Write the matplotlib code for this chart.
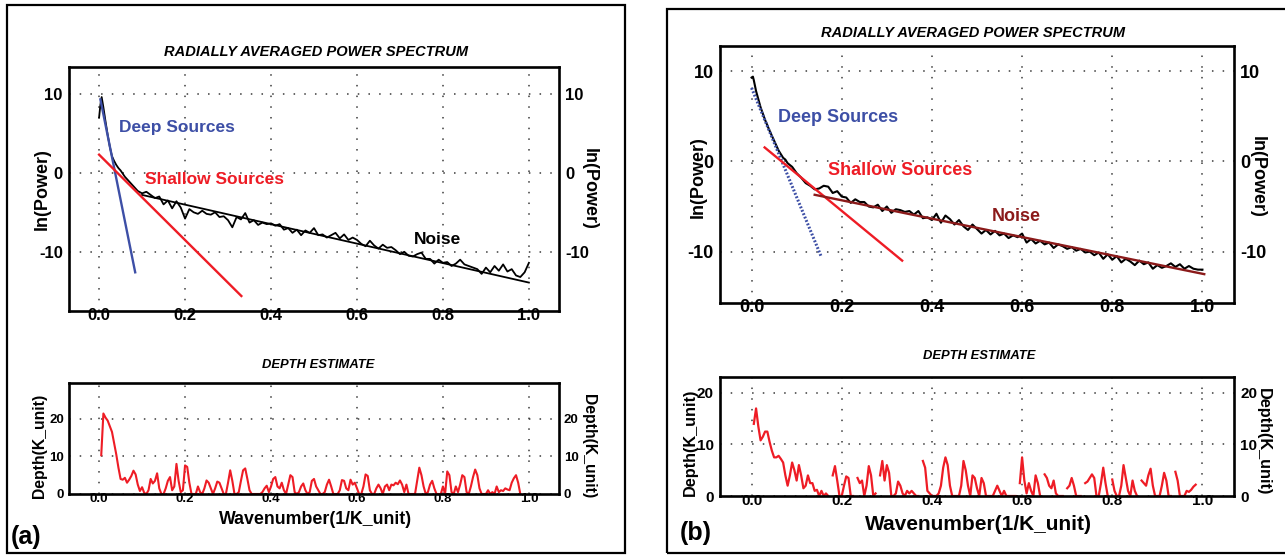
import numpy as np
import matplotlib
matplotlib.use("Agg")
import matplotlib.pyplot as plt
from matplotlib.patches import Rectangle

W, H = 1285, 556
plt.rcParams['font.family'] = ['Liberation Sans', 'DejaVu Sans']
plt.rcParams['font.weight'] = 'bold'
plt.rcParams['axes.unicode_minus'] = False

# ---------------- data : panel (a) ----------------
pow_a_k = [0.000, 0.003, 0.006, 0.010, 0.015, 0.020, 0.025, 0.030, 0.035, 0.040, 0.045,
           0.05, 0.06, 0.07, 0.08, 0.09, 0.10, 0.11, 0.12, 0.13, 0.14, 0.15, 0.16, 0.17,
           0.18, 0.19, 0.20, 0.21, 0.22, 0.23, 0.24, 0.25, 0.26, 0.27, 0.28, 0.29, 0.30,
           0.31, 0.32, 0.33, 0.34, 0.35, 0.36, 0.37, 0.38, 0.39, 0.40, 0.41, 0.42, 0.43,
           0.44, 0.45, 0.46, 0.47, 0.48, 0.49, 0.50, 0.51, 0.52, 0.53, 0.54, 0.55, 0.56,
           0.57, 0.58, 0.59, 0.60, 0.61, 0.62, 0.63, 0.64, 0.65, 0.66, 0.67, 0.68, 0.69,
           0.70, 0.71, 0.72, 0.73, 0.74, 0.75, 0.76, 0.77, 0.78, 0.79, 0.80, 0.81, 0.82,
           0.83, 0.84, 0.85, 0.86, 0.87, 0.88, 0.89, 0.90, 0.91, 0.92, 0.93, 0.94, 0.95,
           0.96, 0.97, 0.98, 0.99, 1.00]
pow_a_v = [7.0, 8.6, 9.6, 8.3, 6.5, 4.8, 3.3, 2.1, 1.5, 1.0, 0.6,
           0.3, -0.5, -1.1, -1.7, -2.3, -2.6, -2.4, -2.8, -3.2, -3.0, -4.0, -3.5, -4.5,
           -3.6, -4.4, -5.8, -4.6, -5.0, -5.2, -4.8, -5.2, -5.3, -5.0, -5.6, -5.5, -6.0,
           -6.9, -5.6, -5.9, -5.1, -6.3, -6.0, -6.6, -6.3, -6.5, -6.4, -6.7, -6.5, -7.2,
           -7.0, -7.6, -7.2, -7.9, -7.3, -7.6, -7.0, -7.9, -7.8, -8.2, -7.9, -7.6, -8.3,
           -7.8, -8.5, -8.2, -8.5, -9.0, -9.3, -8.6, -9.2, -9.6, -9.1, -9.5, -9.4, -9.8,
           -10.3, -10.0, -10.5, -10.6, -10.3, -10.1, -10.9, -10.9, -11.5, -11.0, -11.4, -11.3, -11.8,
           -11.5, -11.0, -11.6, -11.8, -12.0, -12.2, -12.8, -12.0, -12.6, -11.8, -12.4, -11.6, -12.5,
           -12.2, -13.0, -13.2, -12.6, -11.4]
deep_a_k, deep_a_v = [0.003, 0.084], [9.3, -12.6]
shallow_a_k, shallow_a_v = [0.0, 0.331], [2.3, -15.6]
noise_a_k, noise_a_v = [0.10, 1.00], [-2.8, -13.9]

depth_a_v = [10.3, 21.4, 20.3, 19.5, 18.0, 16.5, 13.5, 10.5, 7.0, 4.0,
             3.8, 4.3, 3.0, 3.8, 4.8, 6.2, 5.2, 2.5, 0.8, 1.8,
             0.3, 0.0, 1.0, 4.0, 2.8, 3.5, 5.5, 1.5, 0.0, 0.0,
             1.5, 3.5, 4.5, 1.0, 2.0, 8.0, 3.5, 0.5, 1.0, 7.6,
             7.2, 3.0, 0.0, 0.0, 0.0, 2.0, 0.5, 0.0, 1.5, 3.6,
             3.0, 1.5, 0.0, 1.5, 3.3, 3.0, 1.5, 0.0, 0.0, 3.0,
             6.3, 3.5, 0.0, 0.0, 0.5, 3.5, 6.3, 6.8, 4.0, 1.0,
             0.0, 0.0, 0.0, 0.0, 0.0, 0.5, 1.5, 2.2, 0.5, 2.0,
             4.0, 4.5, 2.0, 1.5, 3.0, 1.0, 0.0, 2.5, 5.0, 4.5,
             0.5, 0.0, 0.5, 2.0, 2.8, 1.0, 0.0, 0.5, 3.5, 4.0,
             2.0, 1.0, 0.0, 0.0, 0.5, 2.5, 3.8, 2.0, 0.0, 0.0,
             0.0, 1.0, 3.7, 3.5, 1.5, 1.0, 3.8, 2.5, 3.0, 1.5,
             0.0, 0.0, 2.0, 5.2, 4.8, 1.0, 0.0, 0.0, 1.5, 2.5,
             1.5, 0.0, 2.0, 2.5, 1.0, 2.5, 2.3, 3.0, 2.6, 3.6,
             2.5, 0.5, 2.5, 0.0, 0.0, 0.0, 0.0, 3.5, 7.0, 5.0,
             2.0, 0.0, 0.5, 2.5, 3.5, 1.5, 0.0, 0.0, 0.0, 2.0,
             0.0, 6.0, 5.0, 0.5, 0.0, 2.0, 0.5, 2.5, 5.0, 4.5,
             0.5, 0.0, 2.0, 4.5, 6.5, 5.0, 1.5, 0.0, 0.0, 0.0,
             1.0, 0.0, 0.5, 0.0, 2.0, 0.5, 1.0, 0.8, 1.5, 1.2,
             1.0, 3.0, 4.2, 5.0, 3.0, 0.0]
depth_a_k = np.round(0.005 * np.arange(1, len(depth_a_v) + 1), 3)

# ---------------- data : panel (b) ----------------
pow_b_k = [0.000, 0.003, 0.005, 0.010, 0.020, 0.030, 0.040, 0.050, 0.060, 0.070,
           0.075, 0.08, 0.09, 0.10, 0.11, 0.12, 0.13, 0.14, 0.15, 0.16, 0.17,
           0.18, 0.19, 0.20, 0.21, 0.22, 0.23, 0.24, 0.25, 0.26, 0.27, 0.28, 0.29, 0.30,
           0.31, 0.32, 0.33, 0.34, 0.35, 0.36, 0.37, 0.38, 0.39, 0.40, 0.41, 0.42, 0.43,
           0.44, 0.45, 0.46, 0.47, 0.48, 0.49, 0.50, 0.51, 0.52, 0.53, 0.54, 0.55, 0.56,
           0.57, 0.58, 0.59, 0.60, 0.61, 0.62, 0.63, 0.64, 0.65, 0.66, 0.67, 0.68, 0.69,
           0.70, 0.71, 0.72, 0.73, 0.74, 0.75, 0.76, 0.77, 0.78, 0.79, 0.80, 0.81, 0.82,
           0.83, 0.84, 0.85, 0.86, 0.87, 0.88, 0.89, 0.90, 0.91, 0.92, 0.93, 0.94, 0.95,
           0.96, 0.97, 0.98, 0.99, 1.00]
pow_b_v = [9.3, 9.4, 9.0, 7.8, 6.0, 4.6, 3.4, 2.3, 1.2, 0.4,
           0.2, -0.2, -0.6, -1.3, -1.8, -2.4, -2.7, -3.1, -3.0, -2.7, -2.8,
           -3.5, -3.3, -3.9, -4.0, -4.6, -4.2, -4.5, -4.5, -5.0, -5.1, -4.8, -5.5, -5.0,
           -5.7, -5.3, -5.4, -5.6, -5.5, -5.9, -5.5, -6.3, -6.2, -6.5, -5.8, -6.8, -6.0,
           -6.4, -7.0, -6.5, -7.2, -7.6, -7.0, -7.5, -8.0, -7.6, -8.1, -7.7, -8.2, -8.0,
           -8.5, -8.2, -8.4, -8.0, -9.0, -8.6, -9.1, -8.8, -9.2, -9.0, -9.6, -9.2, -9.4,
           -9.7, -9.5, -9.9, -9.7, -10.1, -10.0, -10.4, -10.1, -10.8, -10.3, -10.9, -10.5, -11.2,
           -10.8, -11.1, -11.5, -11.0, -11.4, -11.2, -11.9, -11.5, -11.8, -11.6, -11.3, -11.7, -11.4,
           -11.9, -11.6, -11.9, -12.0, -12.0]
deep_b_k, deep_b_v = [0.0, 0.154], [8.15, -10.5]
shallow_b_k, shallow_b_v = [0.029, 0.334], [1.55, -11.0]
noise_b_k, noise_b_v = [0.14, 1.004], [-3.7, -12.5]

nan = float('nan')
depth_b_v = [14.0, 17.0, 13.5, 10.8, 11.5, 12.5, 12.5, 10.5, 8.8, 7.5,
             7.5, 7.8, 7.2, 6.5, 4.0, 2.0, 4.0, 6.5, 5.0, 3.0,
             6.0, 4.0, 1.5, 2.0, 4.0, 2.5, 2.5, 1.0, 1.2, 0.0,
             1.0, 0.0, 0.5, 0.0, nan, 4.0, 5.8, 3.0, 0.0, 0.0,
             2.0, 3.8, 3.5, 0.0, 0.0, nan, 3.5, 2.5, 3.0, 0.0,
             2.0, 5.8, 4.0, 0.0, 0.5, nan, 4.0, 6.8, 3.0, 6.0,
             4.5, 0.0, 0.0, 0.5, 2.8, 2.0, 0.5, 0.0, 1.0, 0.5,
             1.0, 0.5, 0.0, 0.0, nan, 6.8, 5.5, 1.0, 0.5, 0.0,
             0.0, 0.0, 0.5, 2.0, 5.5, 7.5, 6.0, 2.0, 0.0, 0.0,
             0.0, 0.0, 2.0, 6.8, 5.0, 2.0, 0.0, 4.0, 3.5, 1.5,
             0.0, 3.5, 2.5, 0.0, 0.0, 0.0, 0.0, 1.0, 2.0, 1.0,
             0.0, 1.0, 0.0, 0.0, 0.0, 0.0, 0.0, nan, 2.5, 7.5,
             3.0, 0.5, 2.5, 1.0, 0.0, 4.0, 2.5, 0.0, nan, 4.2,
             3.5, 2.0, 1.5, 3.0, 0.5, 0.0, 0.0, 0.0, nan, 1.5,
             2.0, 3.5, 2.0, 0.0, 0.0, 0.0, nan, 2.5, 2.8, 3.5,
             4.2, 3.5, 0.0, 0.0, 2.5, 5.5, 2.5, 0.0, nan, 3.2,
             1.0, 0.0, 0.0, 2.0, 6.0, 3.5, 1.0, 0.0, 3.0, 1.0,
             0.0, nan, 3.0, 2.5, 2.0, 4.0, 5.3, 2.0, 0.0, 0.0,
             0.0, 2.0, 4.5, 3.0, 0.0, 0.0, nan, 4.7, 3.0, 0.0,
             0.0, 0.0, 1.0, 0.8, 1.2, 1.8, 2.2]
depth_b_k = np.round(0.005 * np.arange(1, len(depth_b_v) + 1), 3)

xticks = [0.0, 0.2, 0.4, 0.6, 0.8, 1.0]
xlabels = ['0.0', '0.2', '0.4', '0.6', '0.8', '1.0']
pow_yticks = [-10, 0, 10]
dep_yticks = [0, 10, 20]

BLUE = '#3d4fa6'
RED = '#ee1c25'
DARKRED = '#8b1a1a'

fig = plt.figure(figsize=(W / 100, H / 100), dpi=100)


def rect(l, t, r, b):
    return [l / W, 1 - b / H, (r - l) / W, (b - t) / H]


def ftxt(x, y, s, **kw):
    fig.text(x / W, 1 - y / H, s, **kw)


def style(ax, ylim, yticks, fs, xpad, ypad):
    ax.set_xlim(-0.07, 1.07)
    ax.set_ylim(*ylim)
    ax.set_xticks(xticks)
    ax.set_xticklabels(xlabels)
    ax.set_yticks(yticks)
    ax.set_yticklabels([str(v) for v in yticks])
    ax.grid(True, color='#3a3a3a', linestyle=(0, (1, 6)), lw=1.1)
    ax.tick_params(axis='x', length=0, labelsize=fs, pad=xpad)
    ax.tick_params(axis='y', length=0, labelsize=fs, pad=ypad,
                   labelleft=True, labelright=True)
    for lab in ax.get_xticklabels() + ax.get_yticklabels():
        lab.set_fontweight('bold')
    for s in ax.spines.values():
        s.set_linewidth(1.9)
    ax.set_axisbelow(True)


# outer frames
fig.add_artist(Rectangle((7 / W, 1 - 553 / H), (625 - 7) / W, (553 - 5) / H,
                         transform=fig.transFigure, fill=False, lw=1.6, ec='black'))
fig.add_artist(Rectangle((667 / W, 1 - 553 / H), (1310 - 667) / W, (553 - 9) / H,
                         transform=fig.transFigure, fill=False, lw=1.6, ec='black',
                         clip_on=False))

# ---------- panel (a) ----------
ax1 = fig.add_axes(rect(69, 67, 559, 311))
style(ax1, (-17.5, 13.4), pow_yticks, 12, -2.0, 4.5)
ax1.plot(pow_a_k, pow_a_v, color='black', lw=1.3)
ax1.plot(noise_a_k, noise_a_v, color='black', lw=1.3)
ax1.plot(deep_a_k, deep_a_v, color=BLUE, lw=1.7)
ax1.plot(shallow_a_k, shallow_a_v, color=RED, lw=1.7)
ax1.text(0.046, 5.7, 'Deep Sources', color=BLUE, fontsize=12.5, fontweight='bold', va='center')
ax1.text(0.107, -0.9, 'Shallow Sources', color=RED, fontsize=12.5, fontweight='bold', va='center')
ax1.text(0.733, -8.5, 'Noise', color='black', fontsize=12.5, fontweight='bold', va='center')

ax2 = fig.add_axes(rect(69, 383, 559, 494))
style(ax2, (0, 29.5), dep_yticks, 9.5, -0.5, 3.5)
ax2.plot(depth_a_k, depth_a_v, color=RED, lw=1.5)

ftxt(316, 52, 'RADIALLY AVERAGED POWER SPECTRUM', ha='center', va='center',
     fontsize=10.5, fontweight='bold', style='italic')
ftxt(318, 365, 'DEPTH ESTIMATE', ha='center', va='center',
     fontsize=9.4, fontweight='bold', style='italic')
ftxt(42, 189, 'ln(Power)', ha='center', va='center', rotation=90, fontsize=13, fontweight='bold')
ftxt(589, 189, 'ln(Power)', ha='center', va='center', rotation=270, fontsize=13, fontweight='bold')
ftxt(40, 446, 'Depth(K_unit)', ha='center', va='center', rotation=90, fontsize=11.3, fontweight='bold')
ftxt(589, 446, 'Depth(K_unit)', ha='center', va='center', rotation=270, fontsize=11.3, fontweight='bold')
ftxt(316, 520, 'Wavenumber(1/K_unit)', ha='center', va='center', fontsize=12.8, fontweight='bold')
ftxt(26, 537, '(a)', ha='center', va='center', fontsize=18, fontweight='bold')

# ---------- panel (b) ----------
ax3 = fig.add_axes(rect(720, 46, 1234, 303))
style(ax3, (-15.7, 12.8), pow_yticks, 13, -3.0, 4.5)
ax3.plot(pow_b_k, pow_b_v, color='black', lw=1.5)
ax3.plot(deep_b_k, deep_b_v, color=BLUE, lw=2.2, linestyle=(0, (0.6, 0.6)))
ax3.plot(shallow_b_k, shallow_b_v, color=RED, lw=1.7)
ax3.plot(noise_b_k, noise_b_v, color=DARKRED, lw=1.7)
ax3.text(0.058, 4.86, 'Deep Sources', color=BLUE, fontsize=13, fontweight='bold', va='center')
ax3.text(0.169, -1.03, 'Shallow Sources', color=RED, fontsize=13, fontweight='bold', va='center')
ax3.text(0.532, -6.14, 'Noise', color=DARKRED, fontsize=13, fontweight='bold', va='center')

ax4 = fig.add_axes(rect(720, 377, 1234, 496))
style(ax4, (0, 23.1), dep_yticks, 11, -1.5, 4.5)
ax4.plot(depth_b_k, depth_b_v, color=RED, lw=1.6)

ftxt(973, 33, 'RADIALLY AVERAGED POWER SPECTRUM', ha='center', va='center',
     fontsize=10.5, fontweight='bold', style='italic')
ftxt(979, 356, 'DEPTH ESTIMATE', ha='center', va='center',
     fontsize=9.4, fontweight='bold', style='italic')
ftxt(698, 177, 'ln(Power)', ha='center', va='center', rotation=90, fontsize=13, fontweight='bold')
ftxt(1257, 177, 'ln(Power)', ha='center', va='center', rotation=270, fontsize=13, fontweight='bold')
ftxt(690, 442, 'Depth(K_unit)', ha='center', va='center', rotation=90, fontsize=11.7, fontweight='bold')
ftxt(1263, 442, 'Depth(K_unit)', ha='center', va='center', rotation=270, fontsize=11.7, fontweight='bold')
ftxt(978, 525, 'Wavenumber(1/K_unit)', ha='center', va='center', fontsize=15, fontweight='bold')
ftxt(696, 533, '(b)', ha='center', va='center', fontsize=18, fontweight='bold')

fig.savefig('out.png', dpi=100)
